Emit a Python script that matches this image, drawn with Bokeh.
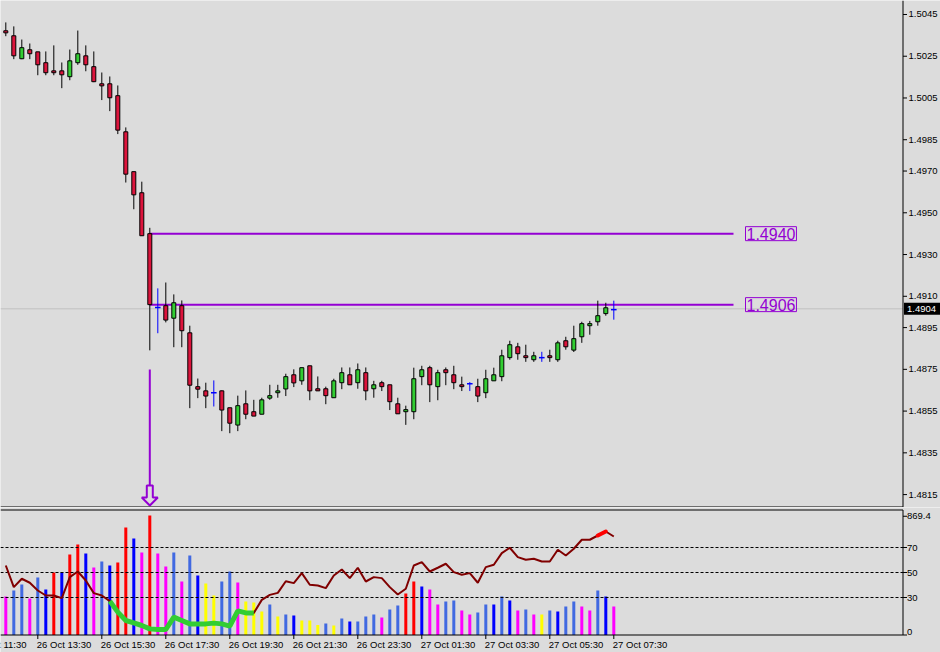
from bokeh.plotting import figure
from bokeh.layouts import column
from bokeh.models import Label, Range1d
from bokeh.core.properties import value
from bokeh.embed import file_html
from bokeh.resources import INLINE

# ---------------- data (M15 candles) ----------------
opens = [1.50372, 1.50348, 1.50238, 1.50281, 1.50271, 1.50219, 1.50180, 1.50180, 1.50152, 1.50219,
         1.50252, 1.50200, 1.50118, 1.50118, 1.50061, 1.49888, 1.49697, 1.49596, 1.49400, 1.49046,
         1.49055, 1.48995, 1.49055, 1.48925, 1.48667, 1.48647, 1.48638, 1.48647, 1.48566, 1.48483,
         1.48585, 1.48547, 1.48535, 1.48612, 1.48638, 1.48656, 1.48724, 1.48695, 1.48767, 1.48657,
         1.48657, 1.48614, 1.48686, 1.48724, 1.48686, 1.48734, 1.48657, 1.48686, 1.48676, 1.48585,
         1.48547, 1.48547, 1.48715, 1.48758, 1.48667, 1.48748, 1.48724, 1.48676, 1.48681, 1.48667,
         1.48638, 1.48695, 1.48715, 1.48806, 1.48858, 1.48815, 1.48796, 1.48806, 1.48815, 1.48796,
         1.48887, 1.48842, 1.48906, 1.48959, 1.48978, 1.49017, 1.49036]
highs = [1.50412, 1.50393, 1.50330, 1.50311, 1.50271, 1.50273, 1.50302, 1.50220, 1.50282, 1.50373,
         1.50302, 1.50273, 1.50172, 1.50153, 1.50110, 1.49909, 1.49697, 1.49649, 1.49428, 1.49138,
         1.49166, 1.49109, 1.49080, 1.48959, 1.48706, 1.48686, 1.48697, 1.48649, 1.48566, 1.48624,
         1.48649, 1.48604, 1.48614, 1.48676, 1.48676, 1.48729, 1.48750, 1.48758, 1.48767, 1.48716,
         1.48667, 1.48705, 1.48759, 1.48759, 1.48778, 1.48759, 1.48695, 1.48695, 1.48676, 1.48614,
         1.48576, 1.48758, 1.48767, 1.48767, 1.48748, 1.48759, 1.48767, 1.48715, 1.48689, 1.48705,
         1.48748, 1.48758, 1.48844, 1.48887, 1.48877, 1.48868, 1.48834, 1.48834, 1.48844, 1.48887,
         1.48906, 1.48959, 1.48978, 1.48982, 1.49079, 1.49069, 1.49079]
lows = [1.50346, 1.50236, 1.50236, 1.50236, 1.50159, 1.50159, 1.50159, 1.50097, 1.50135, 1.50209,
        1.50178, 1.50126, 1.50040, 1.49987, 1.49877, 1.49645, 1.49517, 1.49390, 1.48841, 1.48923,
        1.48975, 1.48856, 1.48856, 1.48564, 1.48612, 1.48564, 1.48572, 1.48454, 1.48444, 1.48454,
        1.48511, 1.48526, 1.48535, 1.48604, 1.48614, 1.48622, 1.48665, 1.48676, 1.48602, 1.48647,
        1.48583, 1.48614, 1.48655, 1.48676, 1.48657, 1.48602, 1.48614, 1.48646, 1.48555, 1.48537,
        1.48484, 1.48511, 1.48674, 1.48593, 1.48602, 1.48674, 1.48655, 1.48646, 1.48646, 1.48593,
        1.48612, 1.48695, 1.48693, 1.48796, 1.48796, 1.48786, 1.48786, 1.48786, 1.48786, 1.48786,
        1.48844, 1.48833, 1.48877, 1.48916, 1.48959, 1.49007, 1.48988]
closes = [1.50362, 1.50252, 1.50291, 1.50262, 1.50209, 1.50171, 1.50171, 1.50161, 1.50228, 1.50262,
          1.50209, 1.50128, 1.50108, 1.50051, 1.49896, 1.49685, 1.49586, 1.49390, 1.49060, 1.49046,
          1.48986, 1.49069, 1.48935, 1.48674, 1.48655, 1.48622, 1.48638, 1.48555, 1.48492, 1.48576,
          1.48535, 1.48526, 1.48604, 1.48624, 1.48647, 1.48715, 1.48685, 1.48758, 1.48647, 1.48647,
          1.48624, 1.48695, 1.48734, 1.48676, 1.48748, 1.48647, 1.48676, 1.48667, 1.48595, 1.48537,
          1.48557, 1.48705, 1.48748, 1.48676, 1.48734, 1.48734, 1.48686, 1.48667, 1.48681, 1.48622,
          1.48705, 1.48724, 1.48815, 1.48868, 1.48825, 1.48806, 1.48815, 1.48806, 1.48806, 1.48877,
          1.48858, 1.48897, 1.48969, 1.48969, 1.49007, 1.49045, 1.49036]

price_ticks = [1.5045, 1.5025, 1.5005, 1.4985, 1.4970, 1.4950, 1.4930, 1.4910,
               1.4895, 1.4875, 1.4855, 1.4835, 1.4815]
levels = [1.4940, 1.4906]
bid_price = 1.4904
signal_bar = 18

hist_values = [30.8, 35.6, 40.4, 29.2, 46, 36.4, 50, 50, 64.4, 72.4,
               65.2, 54, 58.8, 55.6, 58, 86, 77.2, 66, 95.6, 65.2,
               54.8, 66, 42.8, 63.6, 47.6, 41.2, 31.6, 42.8, 50.8, 42,
               26.8, 26, 18.8, 24.4, 14.8, 16.4, 15.6, 11.6, 11.6, 8,
               9.2, 7.6, 13.2, 10.8, 10.8, 14.8, 16.4, 14, 20.4, 23.6,
               33.2, 42.8, 38.8, 36.4, 24.4, 26.8, 27.6, 19.6, 16.4, 18,
               24.4, 24.4, 30.8, 27.6, 19.6, 20.4, 16.4, 16.4, 19.6, 18.8,
               22.8, 26.8, 22.8, 19.6, 35.6, 30.8, 22.8]
hist_class = ["M", "R", "R", "M", "R", "B", "X", "B", "X", "X",
              "B", "M", "R", "B", "X", "X", "B", "M", "X", "M",
              "M", "R", "M", "R", "B", "Y", "Y", "R", "R", "M",
              "Y", "Y", "Y", "R", "Y", "R", "B", "Y", "Y", "Y",
              "R", "Y", "R", "B", "R", "R", "R", "M", "R", "R",
              "X", "X", "B", "M", "M", "R", "R", "M", "M", "R",
              "R", "B", "R", "B", "M", "R", "M", "Y", "R", "B",
              "R", "R", "M", "M", "R", "B", "M"]
osc_values = [55.6, 38.3, 45, 41.8, 35.6, 31.6, 31.6, 29.5, 46.3, 50.8,
              43.6, 33.5, 31.6, 27.1, 18.3, 11.6, 9.7, 7.6, 4.9, 4.4,
              4.4, 14.3, 11.6, 8.9, 8.9, 8.9, 9.5, 8.9, 7.1, 19.3,
              17.7, 17.7, 28.1, 32.1, 33.7, 43, 41.5, 49.5, 40.2, 39.6,
              37.5, 47.6, 52.4, 45.5, 53.8, 42.8, 46.3, 45.5, 38.3, 32.4,
              37, 55.6, 58.3, 50.8, 53.8, 57, 50.3, 48.2, 49.5, 41.8,
              54.3, 56.2, 65.5, 69.8, 62.3, 60.2, 61, 58.8, 58.8, 68.2,
              63.6, 69, 76.2, 76.2, 79.6, 82.8, 78.8]
oversold_range = (13, 31)
overbought_range = (74, 75)
osc_levels = [30, 50, 70]
osc_ticks = [0, 30, 50, 70, 95]
osc_tick_labels = ["0", "30", "50", "70", "869.4"]
osc_scale_max = 100

time_tick_bars = [-4, 4, 12, 20, 28, 36, 44, 52, 60, 68, 76]
time_tick_labels = ["26 Oct 11:30", "26 Oct 13:30", "26 Oct 15:30", "26 Oct 17:30",
                    "26 Oct 19:30", "26 Oct 21:30", "26 Oct 23:30", "27 Oct 01:30",
                    "27 Oct 03:30", "27 Oct 05:30", "27 Oct 07:30"]

# ---------------- styles / layout constants ----------------
BG = "#DCDCDC"
PURPLE = "#9400D3"
BULL = "#32CD32"
BEAR = "#DC143C"
DOJI = "#0000FF"
HIST_COLORS = {"M": "#FF00FF", "R": "#4169E1", "B": "#0000FF", "X": "#FF0000", "Y": "#FFFF00"}
FONT = "Liberation Sans"
AXIS_FONT_SIZE = "9.5px"

n = len(opens)
idx = list(range(n))
BAR_PX = 8.0                 # pixel spacing between bars
X0 = -5.3 / BAR_PX           # left edge of chart in bar units
W = 940
H1, H2 = 507, 145
px_x = 1 / BAR_PX
XR = X0 + W * px_x
AXIS_X = X0 + 902.5 * px_x   # right scale line position

# price panel vertical scale
Y1 = 1.50517
PX_PER_PRICE = 20874.0
Y0 = Y1 - H1 / PX_PER_PRICE
px_y = 1 / PX_PER_PRICE

# indicator panel vertical scale (1.25 px per unit, zero 127.5 px below panel top)
OSC_PX = 1.25
V_TOP = 127.5 / OSC_PX
V_BOT = V_TOP - H2 / OSC_PX
pv = 1 / OSC_PX

shared_x = Range1d(X0, XR)


def base_figure(height, y0, y1):
    f = figure(width=W, height=height, x_range=shared_x,
               y_range=Range1d(y0, y1), output_backend="svg", toolbar_location=None,
               min_border_left=0, min_border_right=0, min_border_top=0, min_border_bottom=0,
               background_fill_color=BG, border_fill_color=BG, outline_line_color=None)
    f.xgrid.grid_line_color = None
    f.ygrid.grid_line_color = None
    f.xaxis.visible = False
    f.yaxis.visible = False
    return f


# ---------------- main price panel ----------------
p1 = base_figure(H1, Y0, Y1)

p1.segment(x0=[X0], x1=[AXIS_X], y0=[bid_price], y1=[bid_price],
           line_color="#C0C0C0", line_width=1)

line_end = X0 + 733 * px_x
p1.segment(x0=[signal_bar] * len(levels), x1=[line_end] * len(levels),
           y0=levels, y1=levels, line_color=PURPLE, line_width=2)
for lv in levels:
    p1.add_layout(Label(x=X0 + 745 * px_x, y=lv, text=f"{lv:.4f}", text_font=FONT,
                        text_font_size="16px", text_color=PURPLE, text_align="left",
                        text_baseline="middle", border_line_color=PURPLE,
                        border_line_width=1, padding=1))

wick_colors = [DOJI if o == c else "black" for o, c in zip(opens, closes)]
p1.segment(x0=idx, x1=idx, y0=lows, y1=highs, line_color=wick_colors, line_width=1)
bull = [i for i in idx if closes[i] > opens[i]]
bear = [i for i in idx if closes[i] < opens[i]]
doji = [i for i in idx if closes[i] == opens[i]]
p1.vbar(x=bull, width=0.5, top=[closes[i] for i in bull], bottom=[opens[i] for i in bull],
        fill_color=BULL, line_color="black", line_width=1)
p1.vbar(x=bear, width=0.5, top=[opens[i] for i in bear], bottom=[closes[i] for i in bear],
        fill_color=BEAR, line_color="black", line_width=1)
p1.segment(x0=[i - 0.35 for i in doji], x1=[i + 0.35 for i in doji],
           y0=[closes[i] for i in doji], y1=[closes[i] for i in doji],
           line_color=DOJI, line_width=1.5)

# signal arrow under the signal bar
tip = Y0 + 2 * px_y
head_top = tip + 8 * px_y
shaft_top = tip + 20 * px_y
p1.segment(x0=[signal_bar], x1=[signal_bar], y0=[tip + 136 * px_y], y1=[shaft_top],
           line_color=PURPLE, line_width=2)
arrow_x = [signal_bar - 3 * px_x, signal_bar + 3 * px_x, signal_bar + 3 * px_x,
           signal_bar + 8 * px_x, signal_bar, signal_bar - 8 * px_x, signal_bar - 3 * px_x]
arrow_y = [shaft_top, shaft_top, head_top, head_top, tip, head_top, head_top]
p1.patch(arrow_x, arrow_y, fill_color=BG, line_color=PURPLE, line_width=2)

# panel frame + price scale (drawn through the data scales)
p1.segment(x0=[X0], x1=[AXIS_X], y0=[Y0 + 0.5 * px_y], y1=[Y0 + 0.5 * px_y],
           line_color="black", line_width=1)
p1.segment(x0=[AXIS_X], x1=[AXIS_X], y0=[Y0 + 0.5 * px_y], y1=[Y1],
           line_color="black", line_width=1)
p1.segment(x0=[AXIS_X] * len(price_ticks), x1=[AXIS_X + 4 * px_x] * len(price_ticks),
           y0=price_ticks, y1=price_ticks, line_color="black", line_width=1)
p1.text(x=[AXIS_X + 5.5 * px_x] * len(price_ticks), y=price_ticks,
        text=[f"{t:.4f}" for t in price_ticks], text_font=value(FONT),
        text_font_size=AXIS_FONT_SIZE, text_color="black", text_align="left",
        text_baseline="middle")
p1.quad(left=[AXIS_X + 1 * px_x], right=[XR], top=[bid_price + 6 * px_y],
        bottom=[bid_price - 6 * px_y], fill_color="black", line_color=None)
p1.text(x=[AXIS_X + 4 * px_x], y=[bid_price], text=[f"{bid_price:.4f}"],
        text_font=value(FONT), text_font_size=AXIS_FONT_SIZE, text_color="white",
        text_align="left", text_baseline="middle")

# ---------------- indicator panel ----------------
p2 = base_figure(H2, V_BOT, V_TOP)

p2.vbar(x=idx, top=hist_values, bottom=0, width=0.375,
        fill_color=[HIST_COLORS[k] for k in hist_class], line_color=None)
p2.segment(x0=[X0] * len(osc_levels), x1=[AXIS_X] * len(osc_levels),
           y0=osc_levels, y1=osc_levels, line_color="black", line_width=1, line_dash="3 2")
p2.line(idx, osc_values, line_color="#800000", line_width=2)
a, b = oversold_range
p2.line(idx[a:b + 1], osc_values[a:b + 1], line_color=BULL, line_width=5)
a, b = overbought_range
p2.line(idx[a:b + 1], osc_values[a:b + 1], line_color="#FF0000", line_width=4,
        line_cap="round")

# panel frame
top_v = osc_scale_max
p2.segment(x0=[X0, X0, AXIS_X], x1=[AXIS_X, AXIS_X, AXIS_X],
           y0=[top_v, 0, 0], y1=[top_v, 0, top_v], line_color="black", line_width=1)
# right scale
p2.segment(x0=[AXIS_X] * len(osc_ticks), x1=[AXIS_X + 4 * px_x] * len(osc_ticks),
           y0=osc_ticks, y1=osc_ticks, line_color="black", line_width=1)
label_v = [max(t, 3.5 * pv) for t in osc_ticks]
p2.text(x=[AXIS_X + 4 * px_x] * len(osc_ticks), y=label_v, text=osc_tick_labels,
        text_font=value(FONT), text_font_size=AXIS_FONT_SIZE, text_color="black",
        text_align="left", text_baseline="middle")
# time scale
p2.segment(x0=time_tick_bars, x1=time_tick_bars, y0=[0] * len(time_tick_bars),
           y1=[-4 * pv] * len(time_tick_bars), line_color="black", line_width=1)
p2.text(x=[t - 1 * px_x for t in time_tick_bars], y=[-9.5 * pv] * len(time_tick_bars),
        text=time_tick_labels, text_font=value(FONT), text_font_size=AXIS_FONT_SIZE,
        text_color="black", text_align="left", text_baseline="middle")

layout = column(p1, p2, spacing=0)
open("out.html", "w").write(file_html(layout, INLINE))
